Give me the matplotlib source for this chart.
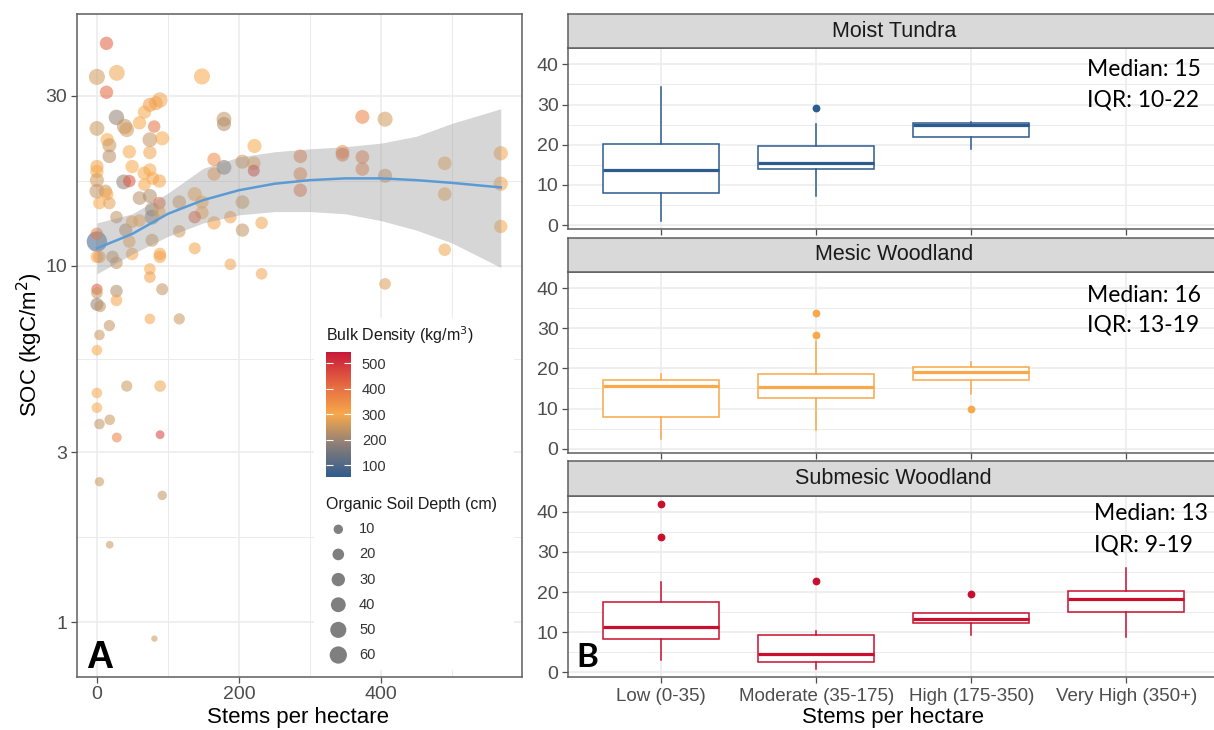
import numpy as np
import matplotlib
matplotlib.use("Agg")
import matplotlib.pyplot as plt
from matplotlib.colors import LinearSegmentedColormap, Normalize

plt.rcParams['font.family'] = ['Liberation Sans', 'DejaVu Sans']

# ---------------- Panel A data ----------------
stems = [13.5, 0, 28, 148, 13.5, 88.7, 74.6, 83, 67, 27.5, 60, 39, 42, 80.6, 0, 179, 179, 374, 406,
         14.5, 17.5, 74.6, 92, 222, 45.6, 74.6, 17.5, 0, 0, 0, 0, 12, 14.5, 3.5, 17.5, 49.6, 66.6,
         74.6, 67, 78.6, 88, 37.6, 45.6, 165, 165, 179, 205, 221, 221, 286.6, 286.6, 286.6, 346,
         346, 374, 374, 406, 490, 490, 569, 569, 569, 490, 406, 137.8, 148, 148, 116, 205, 137.8,
         165, 188, 232, 205, 116, 137.8, 188, 232, 60, 74.6, 77.6, 77.6, 88, 88, 27.5, 40.6, 49.6,
         60, 45.6, 77.6, 0, 0, 3.5, 0, 22, 27.5, 49.6, 88.7, 88.7, 74.6, 74.6, 0, 0, 0, 4.5, 27.5,
         27.5, 92, 17.5, 3.5, 0, 74.6, 116, 42, 89, 0, 0, 18, 3.5, 28, 89, 3.5, 92, 18, 81]
soc = [42.1, 33.9, 34.8, 34.0, 30.7, 29.2, 28.3, 28.6, 27.0, 26.1, 25.2, 24.6, 24.1, 24.6, 24.3,
       25.8, 25.0, 26.2, 25.8, 22.6, 21.8, 22.6, 22.8, 21.7, 20.9, 20.8, 20.3, 19.0, 18.4, 17.4,
       16.2, 16.2, 15.9, 15.0, 15.0, 19.0, 18.2, 18.6, 16.9, 17.6, 17.3, 17.2, 17.3, 19.9, 18.1,
       18.9, 19.6, 19.4, 18.5, 20.3, 18.1, 16.3, 20.9, 20.5, 20.2, 18.7, 17.9, 19.4, 15.9, 20.7,
       17.0, 12.9, 11.1, 8.9, 15.9, 15.1, 14.1, 15.1, 15.1, 13.7, 13.2, 13.7, 13.2, 12.6, 12.5,
       11.2, 10.1, 9.5, 15.5, 15.7, 14.4, 13.7, 15.0, 14.2, 13.7, 12.6, 13.3, 13.4, 11.7, 11.8,
       11.7, 12.3, 10.6, 10.6, 10.6, 10.2, 10.8, 10.8, 10.6, 9.8, 9.3, 8.6, 8.4, 7.8, 7.7, 8.5,
       8.0, 8.6, 6.8, 6.4, 5.8, 7.1, 7.1, 4.6, 4.6, 4.4, 4.0, 3.7, 3.6, 3.3, 3.36, 2.48, 2.27,
       1.65, 0.90]
depth = [30, 50, 48, 50, 30, 45, 35, 35, 30, 45, 30, 45, 40, 25, 40, 40, 35, 35, 42, 30, 35, 40,
         35, 35, 30, 30, 32, 30, 30, 35, 40, 30, 25, 25, 25, 30, 30, 28, 25, 28, 30, 40, 25, 30,
         30, 40, 35, 32, 22, 32, 32, 30, 32, 32, 32, 32, 35, 32, 32, 36, 36, 30, 25, 20, 35, 30,
         30, 32, 32, 25, 30, 25, 25, 30, 25, 22, 20, 20, 32, 35, 35, 40, 25, 25, 25, 30, 25, 25,
         25, 28, 92, 25, 25, 25, 25, 25, 25, 25, 25, 20, 20, 18, 20, 28, 20, 25, 20, 22, 18, 15,
         15, 15, 18, 18, 20, 15, 15, 15, 15, 12, 8, 10, 10, 5, 2]
bulk = [430, 260, 290, 300, 420, 290, 330, 310, 300, 190, 300, 240, 260, 400, 250, 240, 220, 370,
        260, 300, 250, 240, 300, 300, 300, 290, 230, 310, 300, 260, 240, 250, 300, 300, 280, 300,
        300, 300, 300, 300, 310, 190, 450, 350, 330, 170, 260, 290, 480, 380, 370, 400, 340, 400,
        380, 370, 240, 290, 290, 310, 310, 300, 290, 270, 300, 300, 300, 260, 250, 430, 310, 320,
        290, 240, 260, 310, 290, 290, 230, 220, 210, 180, 420, 300, 240, 220, 310, 300, 290, 250,
        70, 380, 320, 310, 240, 240, 310, 310, 310, 300, 320, 440, 250, 190, 240, 220, 310, 240,
        240, 250, 300, 310, 250, 250, 290, 300, 300, 250, 240, 370, 480, 250, 240, 250, 250]

fit_x = [0, 50, 100, 150, 200, 250, 300, 350, 400, 450, 500, 569]
fit_y = [11.2, 12.3, 14.0, 15.3, 16.3, 17.0, 17.4, 17.6, 17.6, 17.4, 17.1, 16.6]
fit_lo = [9.5, 10.8, 12.1, 13.2, 13.9, 14.2, 14.2, 14.0, 13.4, 12.6, 11.6, 9.9]
fit_hi = [13.2, 14.0, 16.0, 18.8, 20.2, 20.9, 21.3, 21.6, 22.1, 23.1, 25.1, 27.6]

x_ticks_a = [0, 200, 400]
x_minor_a = [100, 300, 500]
y_ticks_a = [1, 3, 10, 30]
y_minor_a = [1.732, 5.477, 17.32]
bulk_ticks = [100, 200, 300, 400, 500]
depth_breaks = [10, 20, 30, 40, 50, 60]

# ---------------- Panel B data ----------------
categories = ["Low (0-35)", "Moderate (35-175)", "High (175-350)", "Very High (350+)"]
facet_names = ["Moist Tundra", "Mesic Woodland", "Submesic Woodland"]
facet_colors = ["#2C5B8E", "#F9A84A", "#C8102E"]

mt_q1 = [8.05, 13.9, 21.9]
mt_med = [13.8, 15.5, 24.9]
mt_q3 = [20.2, 19.75, 25.5]
mt_lo = [1.0, 7.2, 18.9]
mt_hi = [34.4, 25.1, 25.6]
mt_out = [[], [29.2], []]

mw_q1 = [7.8, 12.6, 17.0]
mw_med = [15.5, 15.25, 19.2]
mw_q3 = [17.0, 18.7, 20.3]
mw_lo = [2.3, 4.6, 13.7]
mw_hi = [18.6, 26.8, 21.7]
mw_out = [[], [33.9, 28.25], [10.0]]

sw_q1 = [8.3, 2.7, 12.4, 15.0]
sw_med = [11.4, 4.5, 13.2, 18.3]
sw_q3 = [17.6, 9.35, 14.9, 20.2]
sw_lo = [3.2, 0.9, 9.35, 8.85]
sw_hi = [22.5, 10.4, 14.9, 26.0]
sw_out = [[42.0, 33.8], [22.7], [19.5], []]

annot_median = ["Median: 15", "Median: 16", "Median: 13"]
annot_iqr = ["IQR: 10-22", "IQR: 13-19", "IQR: 9-19"]

y_ticks_b = [0, 10, 20, 30, 40]
y_minor_b = [5, 15, 25, 35]

# ---------------- Figure ----------------
W, H = 1214, 730
fig = plt.figure(figsize=(W / 100, H / 100), dpi=100)


def rect(x0, y0, x1, y1):
    """pixel box (top-left origin) -> figure fraction rect"""
    return [x0 / W, 1 - y1 / H, (x1 - x0) / W, (y1 - y0) / H]


GRID = "#EBEBEB"
BORDER = "#5E5E5E"
TICKC = "#4D4D4D"

# ---- Panel A ----
ax = fig.add_axes(rect(76.7, 14, 521.7, 676.7))
ax.set_yscale('log')
ax.set_xlim(-28.5, 598.5)
ax.set_ylim(0.7036, 50.9)
ax.set_xticks(x_ticks_a)
ax.set_xticks(x_minor_a, minor=True)
ax.set_yticks(y_ticks_a)
ax.set_yticklabels([str(v) for v in y_ticks_a])
ax.set_yticks(y_minor_a, minor=True)
ax.yaxis.set_minor_formatter(matplotlib.ticker.NullFormatter())
ax.grid(True, which='major', color=GRID, lw=1.1, zorder=0)
ax.grid(True, which='minor', color=GRID, lw=0.7, zorder=0)
ax.tick_params(which='major', length=4, color=TICKC, labelcolor=TICKC, labelsize=14, width=0.9, pad=3)
ax.tick_params(which='minor', length=0)
for s in ax.spines.values():
    s.set_color(BORDER)
    s.set_linewidth(1.1)
ax.set_axisbelow(True)

cmap = LinearSegmentedColormap.from_list(
    'bd', [(0.0, '#2E5B8E'), (0.26, '#8A7E78'), (0.505, '#F7A84C'), (0.75, '#E4663F'), (1.0, '#C8183A')])
norm = Normalize(vmin=52, vmax=543)


def diam(v):
    return 1.08 * (3.66 + 1.59 * np.sqrt(np.asarray(v, float)))


sizes = (diam(depth) * 0.72) ** 2
ax.scatter(stems, soc, s=sizes, c=bulk, cmap=cmap, norm=norm, alpha=0.55, linewidths=0, zorder=2)

ax.fill_between(fit_x, fit_lo, fit_hi, color='#999999', alpha=0.4, lw=0, zorder=3)
ax.plot(fit_x, fit_y, color='#5B9BD5', lw=1.8, zorder=4)

# legend background
lb = fig.add_axes(rect(314, 318, 514, 670))
lb.set_facecolor('white')
lb.set_xticks([]); lb.set_yticks([])
for s in lb.spines.values():
    s.set_visible(False)

fig.text(326 / W, 1 - 335 / H, 'Bulk Density (kg/m$^3$)', fontsize=11.5, va='center', ha='left', color='#1A1A1A')
cax = fig.add_axes(rect(325.7, 352.3, 350.7, 477.3))
sm = matplotlib.cm.ScalarMappable(norm=norm, cmap=cmap)
cb = fig.colorbar(sm, cax=cax, ticks=bulk_ticks)
cb.outline.set_visible(False)
cax.tick_params(direction='in', color='white', length=5, width=0.8, left=True, right=True,
                labelsize=10.5, labelcolor='#333333', pad=8)

fig.text(326 / W, 1 - 504.3 / H, 'Organic Soil Depth (cm)', fontsize=11.5, va='center', ha='left', color='#1A1A1A')
sax = fig.add_axes(rect(326, 516.7, 420, 667.6))
sax.set_xlim(0, 94)
sax.set_ylim(len(depth_breaks) - 0.5, -0.5)
sax.axis('off')
sax.scatter([12.3] * len(depth_breaks), range(len(depth_breaks)), s=(diam(depth_breaks) * 0.72) ** 2,
            color='#7F7F7F', linewidths=0)
for i, v in enumerate(depth_breaks):
    sax.text(33, i, str(v), fontsize=10.5, va='center', ha='left', color='#333333')

fig.text(30 / W, 1 - 345 / H, 'SOC (kgC/m$^2$)', fontsize=16, rotation=90, va='center', ha='center')
fig.text(298 / W, 1 - 718 / H, 'Stems per hectare', fontsize=16, va='center', ha='center')
fig.text(86 / W, 1 - 668 / H, 'A', fontsize=27, fontweight='bold', va='baseline', ha='left')

# ---- Panel B ----
facet_data = [
    (mt_q1, mt_med, mt_q3, mt_lo, mt_hi, mt_out),
    (mw_q1, mw_med, mw_q3, mw_lo, mw_hi, mw_out),
    (sw_q1, sw_med, sw_q3, sw_lo, sw_hi, sw_out),
]
strip_h = 34.3
panel_h = 181.0
gap = 8.4
x_left = 568.3
x_right = 1214
xmax_b = 0.4 + (x_right - x_left) / 155.0
annot_y = [(70, 100), (295, 325), (513, 545)]
annot_x = [1087, 1087, 1094]

for k in range(3):
    top = 14 + k * (strip_h + panel_h + gap)
    pb = fig.add_axes(rect(x_left, top + strip_h, x_right, top + strip_h + panel_h))
    q1, med, q3, lo, hi, out = facet_data[k]
    col = facet_colors[k]
    stats = []
    for i in range(len(q1)):
        stats.append(dict(q1=q1[i], med=med[i], q3=q3[i], whislo=lo[i], whishi=hi[i], fliers=out[i]))
    pb.bxp(stats, positions=list(range(1, len(q1) + 1)), widths=0.75, showcaps=False,
           patch_artist=True,
           boxprops=dict(facecolor='white', edgecolor=col, linewidth=1.1),
           medianprops=dict(color=col, linewidth=2.3, solid_capstyle='butt'),
           whiskerprops=dict(color=col, linewidth=1.1),
           flierprops=dict(marker='o', markerfacecolor=col, markeredgecolor=col, markersize=4.6))
    pb.set_xlim(0.4, xmax_b)
    pb.set_ylim(-1.07, 44.0)
    pb.set_yticks(y_ticks_b)
    pb.set_yticks(y_minor_b, minor=True)
    pb.set_xticks(range(1, len(categories) + 1))
    if k == 2:
        pb.set_xticklabels(categories)
    else:
        pb.set_xticklabels([])
    pb.grid(True, which='major', color=GRID, lw=1.1)
    pb.grid(True, which='minor', axis='y', color=GRID, lw=0.7)
    pb.set_axisbelow(True)
    pb.tick_params(which='major', length=4, color=TICKC, labelcolor=TICKC, labelsize=14, width=0.9, pad=3)
    pb.tick_params(which='minor', length=0)
    pb.tick_params(axis='x', labelsize=13.5, pad=4)
    for s in pb.spines.values():
        s.set_color(BORDER)
        s.set_linewidth(1.1)
    pb.spines['right'].set_visible(False)

    st = fig.add_axes(rect(x_left, top, x_right, top + strip_h))
    st.set_facecolor('#D9D9D9')
    st.set_xticks([]); st.set_yticks([])
    for s in st.spines.values():
        s.set_color(BORDER)
        s.set_linewidth(1.1)
    st.spines['right'].set_visible(False)
    cx = (x_left + (x_left + (4.6 - 0.4) * 155.0)) / 2
    fig.text(cx / W, 1 - (top + strip_h / 2) / H, facet_names[k], fontsize=15.5, ha='center', va='center', color='#1A1A1A')

    fig.text(annot_x[k] / W, 1 - annot_y[k][0] / H, annot_median[k], fontsize=16.5, family='Lato', ha='left', va='center', color='black')
    fig.text(annot_x[k] / W, 1 - annot_y[k][1] / H, annot_iqr[k], fontsize=16.5, family='Lato', ha='left', va='center', color='black')

fig.text(893 / W, 1 - 718 / H, 'Stems per hectare', fontsize=16, va='center', ha='center')
fig.text(576 / W, 1 - 667 / H, 'B', fontsize=24, fontweight='bold', family='Lato', va='baseline', ha='left')

fig.savefig('out.png', dpi=100)
